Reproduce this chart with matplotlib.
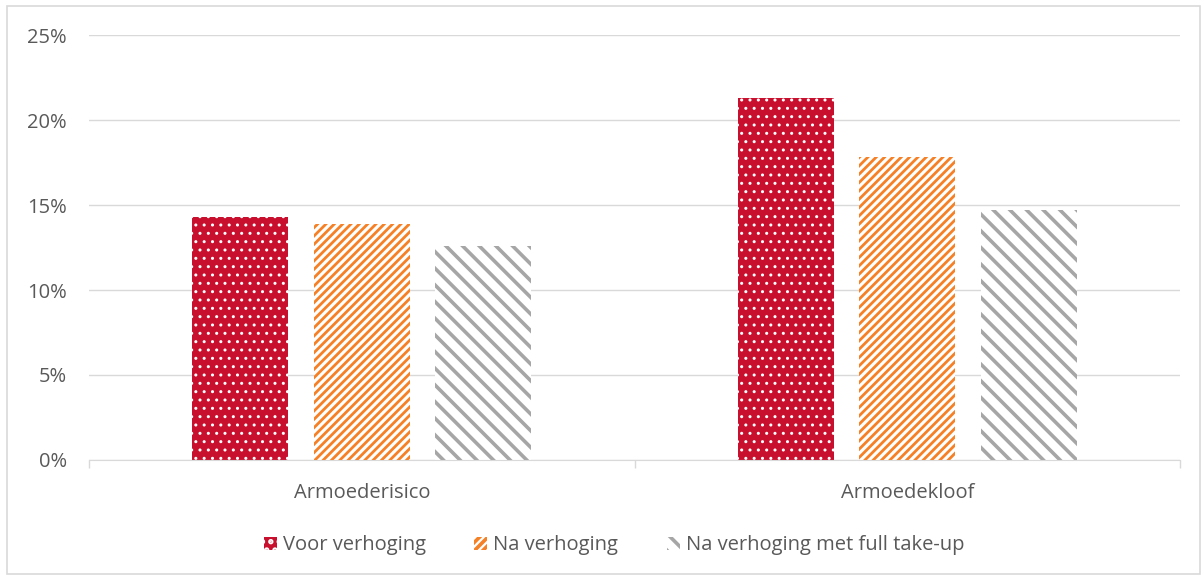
import matplotlib
matplotlib.use("Agg")
import matplotlib.pyplot as plt
import numpy as np
from matplotlib.patches import Rectangle

categories = ["Armoederisico", "Armoedekloof"]
series_names = ["Voor verhoging", "Na verhoging", "Na verhoging met full take-up"]
voor = [14.3, 21.3]
na = [13.9, 17.8]
full = [12.6, 14.7]
yticks = [0, 5, 10, 15, 20, 25]

plt.rcParams['font.family'] = ['Open Sans', 'DejaVu Sans']
text_col = "#595959"
fs = 14.5

fig = plt.figure(figsize=(12.04, 5.76), dpi=100)
ax = fig.add_axes([0.0739, 0.2014, 0.9063, 0.7378])

styles = [
    dict(facecolor="#C8102E", edgecolor="white", hatch="..", hlw=1.0),
    dict(facecolor="white", edgecolor="#F58025", hatch="////", hlw=2.0),
    dict(facecolor="white", edgecolor="#A6A6A6", hatch="\\\\", hlw=2.6),
]
values = [voor, na, full]
x = np.arange(len(categories))
width = 0.176
step = 0.223
handles = []
for i, (vals, st) in enumerate(zip(values, styles)):
    plt.rcParams['hatch.linewidth'] = st["hlw"]
    bars = ax.bar(x + (i - 1) * step, vals, width, color=st["facecolor"],
                  edgecolor=st["edgecolor"], hatch=st["hatch"], linewidth=0,
                  label=series_names[i], zorder=3)
    for b in bars:
        if hasattr(b, "set_hatch_linewidth"):
            b.set_hatch_linewidth(st["hlw"])
    handles.append(bars)

ax.set_xlim(-0.5, 1.5)
ax.set_ylim(0, 25)
ax.set_yticks(yticks)
ax.set_yticklabels([f"{v}%" for v in yticks], color=text_col, fontsize=fs)
ax.grid(axis="y", color="#D9D9D9", linewidth=1.0, zorder=0)
ax.set_xticks([-0.5, 0.5, 1.5])
ax.set_xticklabels([])
ax.tick_params(axis="x", length=6, color="#D9D9D9", width=1)
ax.tick_params(axis="y", length=0, pad=16)
for c, xc in zip(categories, x):
    ax.text(xc, -0.078, c, transform=ax.get_xaxis_transform(), ha="center",
            va="center", color=text_col, fontsize=fs)
for s in ["left", "right", "top"]:
    ax.spines[s].set_visible(False)
ax.spines["bottom"].set_color("#D9D9D9")
ax.spines["bottom"].set_zorder(4)

leg = fig.legend(handles=handles, labels=series_names, loc="center",
                 bbox_to_anchor=(0.51, 0.053), ncol=3, frameon=False,
                 fontsize=fs, handlelength=0.65, handleheight=0.65,
                 columnspacing=2.4, handletextpad=0.3)
for t in leg.get_texts():
    t.set_color(text_col)

fig.patches.append(Rectangle((0.006, 0.004), 0.991, 0.986, transform=fig.transFigure,
                             fill=False, edgecolor="#D9D9D9", linewidth=1.2))

fig.savefig("out.png", dpi=100)
